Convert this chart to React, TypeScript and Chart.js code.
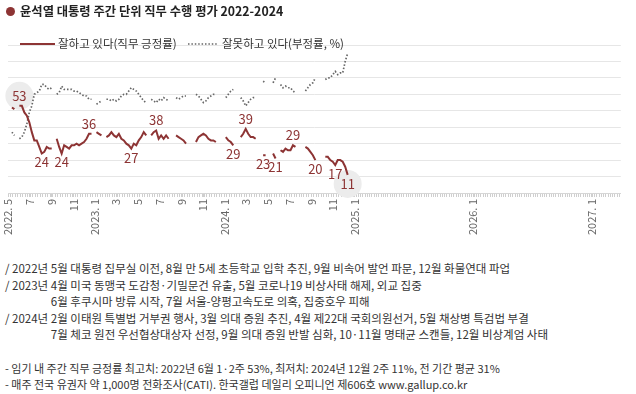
import { useEffect, useRef } from 'react';
import { Chart, registerables } from 'chart.js';
Chart.register(...registerables);

// ---- data (Gallup weekly, survey-week Thursday) ----
const dates2022 = ['05-12','05-19','05-26','06-02','06-09','06-16','06-23','06-30','07-07','07-14','07-21','07-28','08-04','08-11','08-18','08-25','09-01','09-08','09-15','09-22','09-29','10-06','10-13','10-20','10-27','11-03','11-10','11-17','11-24','12-01','12-08','12-15','12-22','12-29'];
const approve2022 = [52,51,null,53,53,49,47,43,37,32,32,28,24,25,28,27,27,null,33,28,24,29,28,27,29,29,30,29,30,31,33,36,36,null];
const disapprove2022 = [37,35,null,33,34,37,42,49,53,60,61,62,66,66,64,63,64,null,60,61,65,63,63,63,63,62,62,61,60,59,59,57,57,null];

const dates2023 = ['01-05','01-12','01-19','01-26','02-02','02-09','02-16','02-23','03-02','03-09','03-16','03-23','03-30','04-06','04-13','04-20','04-27','05-04','05-11','05-18','05-25','06-01','06-08','06-15','06-22','06-29','07-06','07-13','07-20','07-27','08-03','08-10','08-17','08-24','08-31','09-07','09-14','09-21','09-28','10-05','10-12','10-19','10-26','11-02','11-09','11-16','11-23','11-30','12-07','12-14','12-21','12-28'];
const approve2023 = [37,36,35,null,34,35,37,35,34,36,33,32,30,29,27,30,29,32,34,37,35,null,35,37,38,33,35,33,35,33,null,null,35,34,33,32,30,null,null,null,31,34,35,36,35,33,32,32,31,null,null,null];
const disapprove2023 = [54,55,56,null,57,57,56,57,56,57,59,60,60,62,64,63,62,60,58,56,55,null,57,56,55,57,56,58,57,56,null,null,58,57,58,59,59,null,null,null,60,59,57,55,56,58,59,60,60,null,null,null];

const dates2024 = ['01-04','01-11','01-18','01-25','02-01','02-08','02-15','02-22','02-29','03-07','03-14','03-21','03-28','04-04','04-11','04-18','04-25','05-02','05-09','05-16','05-23','05-30','06-06','06-13','06-20','06-27','07-04','07-11','07-18','07-25','08-01','08-08','08-15','08-22','08-29','09-05','09-12','09-19','09-26','10-03','10-10','10-17','10-24','10-31','11-07','11-14','11-21','11-28','12-05','12-12'];
const approve2024 = [34,32,31,29,null,null,34,36,39,36,34,34,33,null,null,23,23,null,null,24,21,null,26,25,27,26,26,29,28,null,null,null,28,27,25,23,20,null,null,null,22,22,20,19,17,20,20,19,16,11];
const disapprove2024 = [58,60,62,63,null,null,58,56,53,55,57,58,58,null,null,68,67,null,null,67,70,null,66,64,65,64,64,62,61,null,null,null,62,64,66,67,70,null,null,null,69,70,70,72,74,72,73,73,80,85];

// labelled weeks on the approval line: [date, position]
const labelWeeks: [string, 'above' | 'below'][] = [
  ['2022-06-02','above'],['2022-08-04','below'],['2022-09-29','below'],['2022-12-15','above'],
  ['2023-04-13','below'],['2023-06-22','above'],['2024-01-25','below'],['2024-02-29','above'],
  ['2024-04-18','below'],['2024-05-23','below'],['2024-07-11','above'],['2024-09-12','below'],
  ['2024-11-07','below'],['2024-12-12','below'],
];
const circledWeeks = ['2022-06-02','2024-12-12'];

// axis: surveyed period and remaining term, tick labels (year-month)
const periodStart = '2022-05-01';
const periodSplit = '2025-01-01';
const periodEnd = '2027-04-01';
const monthTicks = ['2022-05','2022-07','2022-09','2022-11','2023-01','2023-03','2023-05','2023-07','2023-09','2023-11','2024-01','2024-03','2024-05','2024-07','2024-09','2024-11','2025-01','2026-01','2027-01'];
const yTicks = [0,10,20,30,40,50,60,70,80,90];

const titleText = '윤석열 대통령 주간 단위 직무 수행 평가 2022-2024';
const legendTexts = ['잘하고 있다(직무 긍정률)','잘못하고 있다(부정률, %)'];
const noteLines: [string, string][] = [
  ['', '/ 2022년 5월 대통령 집무실 이전, 8월 만 5세 초등학교 입학 추진, 9월 비속어 발언 파문, 12월 화물연대 파업'],
  ['', '/ 2023년 4월 미국 동맹국 도감청·기밀문건 유출, 5월 코로나19 비상사태 해제, 외교 집중'],
  ['/ 2023년 ', '6월 후쿠시마 방류 시작, 7월 서울-양평고속도로 의혹, 집중호우 피해'],
  ['', '/ 2024년 2월 이태원 특별법 거부권 행사, 3월 의대 증원 추진, 4월 제22대 국회의원선거, 5월 채상병 특검법 부결'],
  ['/ 2024년 ', '7월 체코 원전 우선협상대상자 선정, 9월 의대 증원 반발 심화, 10·11월 명태균 스캔들, 12월 비상계엄 사태'],
];
const footLines = [
  '- 임기 내 주간 직무 긍정률 최고치: 2022년 6월 1·2주 53%, 최저치: 2024년 12월 2주 11%, 전 기간 평균 31%',
  '- 매주 전국 유권자 약 1,000명 전화조사(CATI). 한국갤럽 데일리 오피니언 제606호 www.gallup.co.kr',
];

// ---- helpers ----
const DAY0 = Date.UTC(2022, 0, 1);
const toDay = (s: string) => {
  const [y, m, d] = s.split('-').map(Number);
  return (Date.UTC(y, m - 1, d || 1) - DAY0) / 86400000;
};
const build = (year: number, dates: string[], vals: (number | null)[]) =>
  dates.map((d, i) => ({ x: toDay(`${year}-${d}`), y: vals[i] }));

const approvePts = [...build(2022, dates2022, approve2022), ...build(2023, dates2023, approve2023), ...build(2024, dates2024, approve2024)];
const disapprovePts = [...build(2022, dates2022, disapprove2022), ...build(2023, dates2023, disapprove2023), ...build(2024, dates2024, disapprove2024)];

const X_MIN = toDay(periodStart);
const X_SPLIT = toDay(periodSplit);
const X_MAX = toDay(periodEnd);
const RED = '#8d3434';
const GREY_DOT = '#666666';
const NARROW = '"Liberation Sans Narrow", "Noto Sans CJK KR", sans-serif';
const KFONT = '"Liberation Sans Narrow", "Noto Sans CJK KR", sans-serif';

const labelMap = new Map<number, string>();
monthTicks.forEach((t, i) => {
  const [y, m] = t.split('-');
  const lbl = i === 0 || m === '01' ? `${y}. ${Number(m)}` : `${Number(m)}`;
  labelMap.set(toDay(t + '-01'), lbl);
});
const allTicks: number[] = [];
for (let v = X_MIN; v <= X_MAX; v += 7) allTicks.push(v);
labelMap.forEach((_, k) => { if (!allTicks.includes(k)) allTicks.push(k); });
allTicks.sort((a, b) => a - b);
const ticksA = allTicks.filter((v) => v <= X_SPLIT);
const ticksB = allTicks.filter((v) => v > X_SPLIT);

const valueAt = (date: string) => approvePts.find((p) => p.x === toDay(date))?.y ?? null;

const overlayPlugin = {
  id: 'overlay',
  beforeDatasetsDraw(chart: any) {
    const { ctx, scales } = chart;
    ctx.save();
    ctx.fillStyle = '#ececec';
    circledWeeks.forEach((d) => {
      const v = valueAt(d);
      const pos = labelWeeks.find((l) => l[0] === d)?.[1];
      if (v == null) return;
      const x = scales.x.getPixelForValue(toDay(d));
      const y = scales.y.getPixelForValue(v) + (pos === 'above' ? -10 : 9);
      ctx.beginPath();
      ctx.arc(x, y, 14, 0, Math.PI * 2);
      ctx.fill();
    });
    ctx.restore();
  },
  afterDatasetsDraw(chart: any) {
    const { ctx, scales } = chart;
    ctx.save();
    ctx.fillStyle = RED;
    ctx.font = `13px ${NARROW}`;
    ctx.textAlign = 'center';
    ctx.textBaseline = 'middle';
    labelWeeks.forEach(([d, pos]) => {
      const v = valueAt(d);
      if (v == null) return;
      const x = scales.x.getPixelForValue(toDay(d));
      const y = scales.y.getPixelForValue(v) + (pos === 'above' ? -10 : 9);
      ctx.fillText(String(v), x, y);
    });
    ctx.restore();
  },
  afterDraw(chart: any) {
    const { ctx } = chart;
    ctx.save();
    const ly = 44;
    ctx.strokeStyle = RED;
    ctx.lineWidth = 2;
    ctx.beginPath(); ctx.moveTo(20, ly); ctx.lineTo(55, ly); ctx.stroke();
    ctx.strokeStyle = GREY_DOT;
    ctx.lineWidth = 1.7;
    ctx.setLineDash([1.5, 1.9]);
    ctx.beginPath(); ctx.moveTo(188, ly); ctx.lineTo(218, ly); ctx.stroke();
    ctx.setLineDash([]);
    ctx.fillStyle = '#333';
    ctx.font = `11.5px ${KFONT}`;
    ctx.textBaseline = 'middle';
    ctx.fillText(legendTexts[0], 58, ly);
    ctx.fillText(legendTexts[1], 222, ly);
    ctx.restore();
  },
};

const xAxis = (min: number, max: number, ticks: number[], weight: number) => ({
  type: 'linear' as const,
  position: 'bottom' as const,
  stack: 'time',
  stackWeight: weight,
  min,
  max,
  afterBuildTicks: (axis: any) => { axis.ticks = ticks.map((v) => ({ value: v })); },
  afterFit: (s: any) => { s.height = 47; },
  ticks: {
    autoSkip: false,
    minRotation: 90,
    maxRotation: 90,
    padding: 2,
    color: '#666',
    font: { size: 11, family: NARROW },
    callback: (v: any) => labelMap.get(v) ?? '',
  },
  grid: { drawOnChartArea: false, drawTicks: true, tickLength: 4, color: '#cfcfcf' },
  border: { display: true, color: '#d6d6d6' },
});

export default function App() {
  const ref = useRef<HTMLCanvasElement | null>(null);
  useEffect(() => {
    if (!ref.current) return;
    const chart = new Chart(ref.current, {
      type: 'line',
      data: {
        datasets: [
          { label: legendTexts[0], data: approvePts as any, xAxisID: 'x', borderColor: RED, borderWidth: 2, pointRadius: 0, spanGaps: false, tension: 0 },
          { label: legendTexts[1], data: disapprovePts as any, xAxisID: 'x', borderColor: GREY_DOT, borderWidth: 1.7, borderDash: [1.5, 1.9], pointRadius: 0, spanGaps: false, tension: 0 },
        ],
      },
      options: {
        animation: false,
        responsive: false,
        devicePixelRatio: 1,
        events: [],
        layout: { padding: { left: 8, right: 6, top: 45, bottom: 0 } },
        plugins: { legend: { display: false }, tooltip: { enabled: false } },
        scales: {
          x: xAxis(X_MIN, X_SPLIT, ticksA, 352),
          x2: xAxis(X_SPLIT, X_MAX, ticksB, 270),
          y: {
            min: 0,
            max: 90,
            afterBuildTicks: (axis: any) => { axis.ticks = yTicks.map((v) => ({ value: v })); },
            afterFit: (s: any) => { s.width = 0; },
            ticks: { display: false },
            grid: { color: '#e6e6e6', drawTicks: false },
            border: { display: false },
          },
        } as any,
      },
      plugins: [overlayPlugin],
    });
    return () => chart.destroy();
  }, []);

  const textStyle: React.CSSProperties = { position: 'absolute', left: 5, fontSize: 11.5, lineHeight: '14px', color: '#333', whiteSpace: 'nowrap', fontFamily: KFONT };
  return (
    <div style={{ position: 'absolute', left: 0, top: 0, width: 636, height: 394, background: '#fff', overflow: 'hidden' }}>
      <canvas ref={ref} width={636} height={240} style={{ position: 'absolute', left: 0, top: 0 }} />
      <div style={{ position: 'absolute', left: 6, top: 7, width: 9, height: 9, borderRadius: '50%', background: RED }} />
      <div style={{ position: 'absolute', left: 20, top: 3, fontSize: 12.3, lineHeight: '16px', fontWeight: 'bold', color: '#222', whiteSpace: 'nowrap', fontFamily: KFONT }}>{titleText}</div>
      {noteLines.map(([pad, t], i) => (
        <div key={i} style={{ ...textStyle, top: [261, 278, 294, 311, 327][i] }}>
          {pad && <span style={{ visibility: 'hidden' }}>{pad}</span>}
          {t}
        </div>
      ))}
      {footLines.map((t, i) => (
        <div key={'f' + i} style={{ ...textStyle, fontSize: 11, top: [361, 377][i] }}>{t}</div>
      ))}
    </div>
  );
}
